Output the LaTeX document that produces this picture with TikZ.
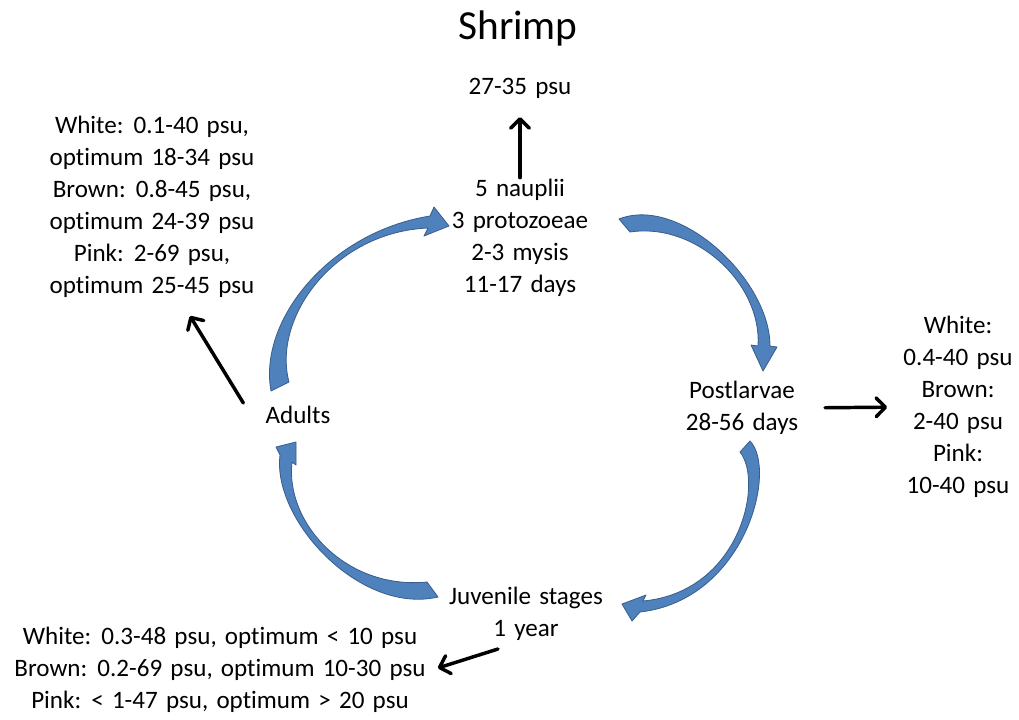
\documentclass[tikz,border=0pt]{standalone}
\usepackage{fontspec}
\setmainfont{Carlito}[WordSpace=1.45, Ligatures=NoCommon]
\usetikzlibrary{arrows.meta, positioning, calc}
\definecolor{cycFill}{HTML}{4F81BD}
\definecolor{cycLine}{HTML}{385D8A}
\tikzset{
  txt/.style={align=center, inner sep=0pt, font=\fontsize{18.8}{24}\selectfont},
  title/.style={inner sep=0pt, font=\fontsize{31}{36}\selectfont},
  blk/.style={line width=2.6pt, line cap=round,
    -{Straight Barb[length=7pt, width=14pt, line cap=round, line join=round]}},
  cyc/.style={fill=cycFill, draw=cycLine, line width=0.6pt, line join=round},
}
\begin{document}
\begin{tikzpicture}[x=0.75pt, y=-0.75pt]
  \useasboundingbox (0,0) rectangle (1019,719);

  % ---- Nodes -------------------------------------------------------------
  \node[title] (head)  at (518,28)  {Shrimp};
  \node[txt]   (top)   at (520,88)  {27-35 psu};
  \node[txt]   (naup)  at (520,238) {5 nauplii\\3 protozoeae\\2-3 mysis\\11-17 days};
  \node[txt]   (post)  at (742,408) {Postlarvae\\28-56 days};
  \node[txt]   (juv)   at (526,614) {Juvenile stages\\1 year};
  \node[txt]   (adult) at (298,415) {Adults};

  \node[txt]   (left)  at (152,207) {White: 0.1-40 psu,\\optimum 18-34 psu\\Brown: 0.8-45 psu,\\optimum 24-39 psu\\Pink: 2-69 psu,\\optimum 25-45 psu};
  \node[txt]   (right) at (958,407) {White:\\0.4-40 psu\\Brown:\\2-40 psu\\Pink:\\10-40 psu};
  \node[txt]   (bot)   at (220,670) {White: 0.3-48 psu, optimum < 10 psu\\Brown: 0.2-69 psu, optimum 10-30 psu\\Pink: < 1-47 psu, optimum > 20 psu};

  % ---- Salinity arrows ---------------------------------------------------
  \draw[blk, shorten <=1pt, shorten >=14pt] (naup.north) -- (top.south);
  \draw[blk] ([shift={(-22,-12)}]adult.west) -- ([shift={(38,18)}]left.south);
  \draw[blk, shorten <=20pt, shorten >=12pt] (post.east) -- (right.west);
  \draw[blk] ([shift={(-28,8)}]juv.south) -- ([shift={(12,-2)}]bot.east);

  % ---- Life cycle arrows -------------------------------------------------
  % adults -> nauplii
  \filldraw[cyc] (271,391) .. controls (258,320) and (330,232) .. (430,216)
    -- (434,207) -- (449,226) -- (424,236) -- (428,228)
    .. controls (334,232) and (272,318) .. (289,382) -- cycle;
  % nauplii -> postlarvae
  \filldraw[cyc] (619,219) .. controls (680,195) and (770,280) .. (770,346)
    -- (777,347) -- (763,371) -- (751,345) -- (758,346)
    .. controls (762,284) and (696,222) .. (630,232) -- cycle;
  % postlarvae -> juvenile stages
  \filldraw[cyc] (750,441) .. controls (778,470) and (745,600) .. (640,612)
    -- (632,621) -- (622,604) -- (646,595) -- (643,601)
    .. controls (740,592) and (764,482) .. (740,452) -- cycle;
  % juvenile stages -> adults
  \filldraw[cyc] (438,597) .. controls (360,615) and (272,520) .. (280,455)
    -- (276,447) -- (296,442) -- (296,465) -- (292,462)
    .. controls (285,522) and (345,590) .. (427,582) -- cycle;

\end{tikzpicture}
\end{document}
